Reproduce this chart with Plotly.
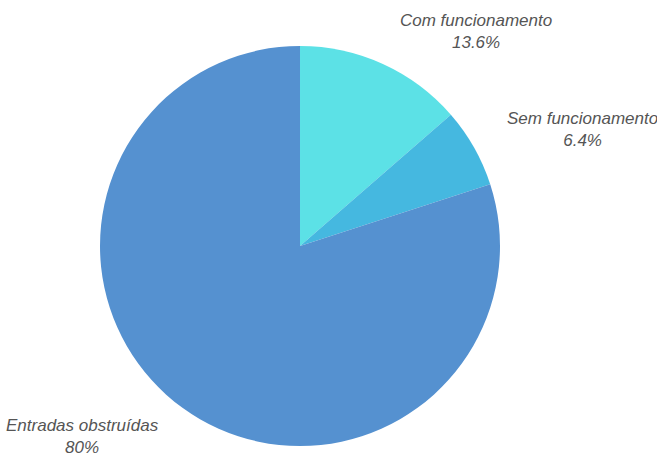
import math
import plotly.graph_objects as go

labels = ["Com funcionamento", "Sem funcionamento", "Entradas obstruídas"]
values = [13.6, 6.4, 80]
pct_text = ["13.6%", "6.4%", "80%"]
colors = ["#5ce1e6", "#45b8e0", "#5591d0"]

W, H = 657, 455
cx, cy, R = 300, 246, 200

fig = go.Figure(go.Pie(
    labels=labels, values=values, sort=False, direction="clockwise", rotation=0,
    marker=dict(colors=colors, line=dict(width=0)),
    textinfo="none", hoverinfo="label+percent", showlegend=False,
    domain=dict(x=[(cx - R) / W, (cx + R) / W], y=[(H - cy - R) / H, (H - cy + R) / H]),
))

total = sum(values)
cum = 0
annotations = []
for lab, v, p in zip(labels, values, pct_text):
    mid = (cum + v / 2) / total * 2 * math.pi
    cum += v
    r = R * 1.18
    px = cx + r * math.sin(mid)
    py = cy - r * math.cos(mid)
    right = math.sin(mid) >= 0
    annotations.append(dict(
        x=px / W, y=1 - py / H, xref="paper", yref="paper",
        text=f"<i>{lab}</i><br><i>{p}</i>", showarrow=False,
        xanchor="left" if right else "right", yanchor="middle", align="center",
        font=dict(family="Liberation Sans, Arial, sans-serif", size=17, color="#555555"),
    ))

fig.update_layout(
    width=W, height=H, margin=dict(l=0, r=0, t=0, b=0),
    paper_bgcolor="white", plot_bgcolor="white",
    annotations=annotations,
)
fig.write_html("out.html")
